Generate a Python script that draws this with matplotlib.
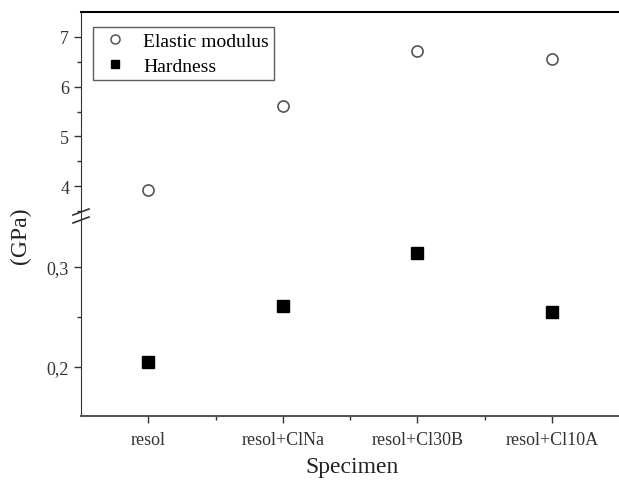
import numpy as np
import matplotlib.pyplot as plt
from matplotlib.lines import Line2D
from matplotlib.ticker import FixedLocator, FuncFormatter

specimens = ["resol", "resol+ClNa", "resol+Cl30B", "resol+Cl10A"]
elastic_modulus = [3.93, 5.62, 6.72, 6.55]
hardness = [0.205, 0.261, 0.314, 0.255]

plt.rcParams['font.family'] = ['Liberation Serif', 'DejaVu Serif']

W, H = 619, 485
fig = plt.figure(figsize=(W / 100, H / 100), dpi=100)

left, right = 81, 619
top_px, brk, bot_px = 13, 217, 417
ax_top = fig.add_axes([left / W, 1 - brk / H, (right - left) / W, (brk - top_px) / H])
ax_bot = fig.add_axes([left / W, 1 - bot_px / H, (right - left) / W, (bot_px - brk) / H])

x = np.arange(1, len(specimens) + 1)

ax_top.plot(x, elastic_modulus, 'o', ms=8, mfc='white', mec='#555555', mew=1.2, ls='none')
ax_bot.plot(x, hardness, 's', ms=9, color='black', ls='none')

ax_top.set_ylim(3.4, 7.5)
ax_bot.set_ylim(0.151, 0.351)
for ax in (ax_top, ax_bot):
    ax.set_xlim(0.5, 4.5)
    ax.spines['right'].set_visible(False)
    ax.spines['left'].set_color('#333333')
    ax.tick_params(axis='both', direction='out', colors='#333333', labelcolor='#333333',
                   labelsize=13, length=5, width=1)
    ax.tick_params(which='minor', direction='out', length=3, width=1, colors='#333333')

ax_top.spines['bottom'].set_visible(False)
ax_top.spines['top'].set_linewidth(1.5)
ax_top.xaxis.set_visible(False)
ax_top.yaxis.set_major_locator(FixedLocator([4, 5, 6, 7]))
ax_top.yaxis.set_minor_locator(FixedLocator([3.5, 4.5, 5.5, 6.5]))

ax_bot.spines['top'].set_visible(False)
ax_bot.spines['bottom'].set_color('#555555')
ax_bot.spines['bottom'].set_linewidth(1.5)
ax_bot.yaxis.set_major_locator(FixedLocator([0.2, 0.3]))
ax_bot.yaxis.set_minor_locator(FixedLocator([0.25]))
ax_bot.yaxis.set_major_formatter(FuncFormatter(lambda v, p: f"{v:.1f}".replace('.', ',')))
ax_bot.set_xticks(x)
ax_bot.set_xticklabels(specimens)
ax_bot.xaxis.set_minor_locator(FixedLocator([1.5, 2.5, 3.5]))
ax_bot.tick_params(axis='x', pad=6)

# break marks on the left spine
for yy in (brk - 4, brk + 4):
    fig.add_artist(Line2D([(left - 8) / W, (left + 8) / W],
                          [1 - (yy + 3) / H, 1 - (yy - 3) / H],
                          color='#333333', lw=1.2))

# legend handles a bit smaller than the data markers, like the original
handles = [
    Line2D([], [], marker='o', ms=6.5, mfc='white', mec='#555555', mew=1.1, ls='none'),
    Line2D([], [], marker='s', ms=5.5, color='black', ls='none'),
]
leg = ax_top.legend(handles, ['Elastic modulus', 'Hardness'], loc='upper left',
                    bbox_to_anchor=(0.022, 0.926), borderaxespad=0, fontsize=14,
                    frameon=True, fancybox=False, edgecolor='#333333',
                    handlelength=1.8, handletextpad=0.55, borderpad=0.25, labelspacing=0.4)
leg.get_frame().set_linewidth(1)

fig.text(20 / W, 1 - 236 / H, "(GPa)", rotation=90, ha='center', va='center',
         fontsize=17, color='#222222')
fig.text(352 / W, 1 - 468 / H, "Specimen", ha='center', va='center',
         fontsize=17, color='#222222')

fig.savefig("out.png", dpi=100)
